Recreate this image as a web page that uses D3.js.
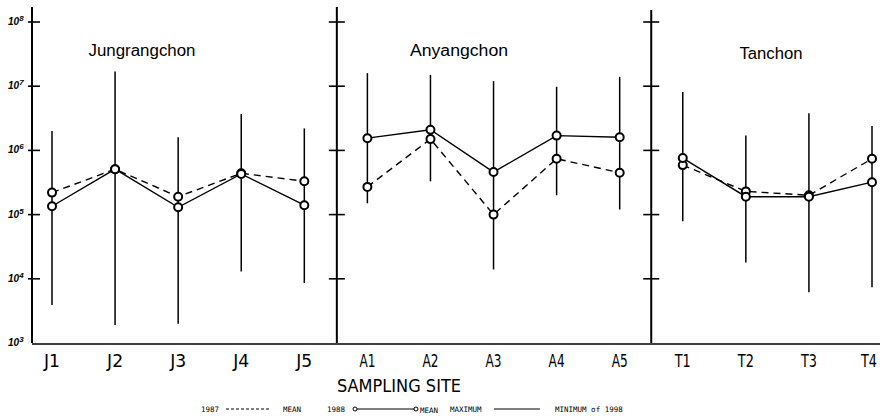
<!DOCTYPE html>
<html>
<head>
<meta charset="utf-8">
<script src="https://cdn.jsdelivr.net/npm/d3@7"></script>
<style>
  body { margin: 0; background: #fff; }
  svg { display: block; }
  text { fill: #000; }
</style>
</head>
<body>
<svg id="chart" width="883" height="419"></svg>
<script>
// sites, grouped by stream
const sites = ["J1", "J2", "J3", "J4", "J5", "A1", "A2", "A3", "A4", "A5", "T1", "T2", "T3", "T4"];
const streams = ["Jungrangchon", "Anyangchon", "Tanchon"];
const streamSites = [["J1", "J2", "J3", "J4", "J5"], ["A1", "A2", "A3", "A4", "A5"], ["T1", "T2", "T3", "T4"]];

// values
const mean1987 = [2.2e5, 5.1e5, 1.9e5, 4.4e5, 3.3e5, 2.7e5, 1.5e6, 1.0e5, 7.4e5, 4.5e5, 5.9e5, 2.3e5, 2.0e5, 7.4e5];
const mean1988 = [1.35e5, 5.1e5, 1.3e5, 4.3e5, 1.4e5, 1.55e6, 2.1e6, 4.6e5, 1.7e6, 1.6e6, 7.6e5, 1.9e5, 1.9e5, 3.2e5];
const max1988 = [2.0e6, 1.7e7, 1.6e6, 3.7e6, 2.2e6, 1.6e7, 1.5e7, 1.2e7, 9.8e6, 1.4e7, 8.1e6, 1.7e6, 3.8e6, 2.4e6];
const min1988 = [3.9e3, 1.9e3, 2.0e3, 1.3e4, 8.6e3, 1.5e5, 3.3e5, 1.4e4, 2.0e5, 1.2e5, 7.9e4, 1.8e4, 6.2e3, 7.4e3];

const yTicks = [1e3, 1e4, 1e5, 1e6, 1e7, 1e8];

const svg = d3.select("#chart");
const x = d3.scalePoint().domain(sites).range([52, 872]);
const y = d3.scaleLog().domain([1e3, 1e8]).range([343, 22]);
const bottom = y(1e3);

// ---------- panel axes ----------
const dividers = [32, (x("J5") + x("A1")) / 2 + 1, (x("A5") + x("T1")) / 2];
dividers.forEach((dx, i) => {
    svg.append("line")
        .attr("x1", dx).attr("x2", dx).attr("y1", i === 2 ? 10 : 7).attr("y2", bottom)
        .attr("stroke", "#000").attr("stroke-width", 2);
    svg.selectAll(null).data(yTicks.slice(1)).join("line")
        .attr("x1", i === 0 ? dx - 4 : dx - 8).attr("x2", dx + 8)
        .attr("y1", d => y(d)).attr("y2", d => y(d))
        .attr("stroke", "#000").attr("stroke-width", 1.6);
});

// y labels, left only
const ylab = svg.selectAll(".ylab").data(yTicks).join("text")
    .attr("class", "ylab")
    .attr("x", 8).attr("y", d => y(d) + 3)
    .attr("font-family", "Liberation Sans, Arial, sans-serif")
    .attr("font-size", 10).attr("font-style", "italic").attr("font-weight", "bold");
ylab.append("tspan").text("10");
ylab.append("tspan").attr("dy", -4).attr("font-size", 8).text(d => Math.round(Math.log10(d)));

// bottom line
svg.append("line")
    .attr("x1", 32).attr("x2", 880).attr("y1", bottom + 1).attr("y2", bottom + 1)
    .attr("stroke", "#000").attr("stroke-width", 1.6);

// x labels
svg.selectAll(".xlab").data(sites).join("text")
    .attr("class", "xlab")
    .attr("x", d => Math.min(x(d), 869)).attr("y", 367)
    .attr("text-anchor", "middle")
    .attr("font-family", "DejaVu Sans, sans-serif")
    .attr("font-size", 18)
    .attr("textLength", 16).attr("lengthAdjust", "spacingAndGlyphs")
    .text(d => d);

// stream titles
const titleX = [142, 459, 771];
const titleW = [107, 98, 63];
svg.selectAll(".title").data(streams).join("text")
    .attr("class", "title")
    .attr("x", (d, i) => titleX[i] - titleW[i] / 2).attr("y", (d, i) => i === 2 ? 59 : 56)
    .attr("font-family", "Liberation Sans, Arial, sans-serif")
    .attr("font-size", 16)
    .attr("textLength", (d, i) => titleW[i]).attr("lengthAdjust", "spacingAndGlyphs")
    .text(d => d);

// ---------- error bars ----------
svg.selectAll(".bar").data(sites).join("line")
    .attr("class", "bar")
    .attr("x1", d => x(d)).attr("x2", d => x(d))
    .attr("y1", (d, i) => y(max1988[i])).attr("y2", (d, i) => y(min1988[i]))
    .attr("stroke", "#000").attr("stroke-width", 1.5);

// ---------- mean lines ----------
const line = d3.line().x(d => x(d.site)).y(d => y(d.v));
function series(vals) {
    return streamSites.map(g => g.map(s => ({ site: s, v: vals[sites.indexOf(s)] })));
}
svg.selectAll(".m87").data(series(mean1987)).join("path")
    .attr("class", "m87").attr("d", line)
    .attr("fill", "none").attr("stroke", "#000").attr("stroke-width", 1.4)
    .attr("stroke-dasharray", "7,5");
svg.selectAll(".m88").data(series(mean1988)).join("path")
    .attr("class", "m88").attr("d", line)
    .attr("fill", "none").attr("stroke", "#000").attr("stroke-width", 1.4);

[mean1987, mean1988].forEach(vals => {
    svg.append("g").selectAll("circle").data(sites).join("circle")
        .attr("cx", d => x(d)).attr("cy", (d, i) => y(vals[i])).attr("r", 4)
        .attr("fill", "#fff").attr("stroke", "#000").attr("stroke-width", 2);
});

// ---------- axis title + legend ----------
svg.append("text")
    .attr("x", 337).attr("y", 392)
    .attr("font-family", "DejaVu Sans, sans-serif")
    .attr("font-size", 18)
    .attr("textLength", 124).attr("lengthAdjust", "spacingAndGlyphs")
    .text("SAMPLING SITE");

const lg = svg.append("g")
    .attr("font-family", "DejaVu Sans Mono, monospace")
    .attr("font-size", 7.5);
lg.append("text").attr("x", 201).attr("y", 412).text("1987");
lg.append("line").attr("x1", 226).attr("x2", 270).attr("y1", 409).attr("y2", 409)
    .attr("stroke", "#000").attr("stroke-dasharray", "3,2");
lg.append("text").attr("x", 283).attr("y", 412).text("MEAN");
lg.append("text").attr("x", 327).attr("y", 412).text("1988");
lg.append("line").attr("x1", 357).attr("x2", 414).attr("y1", 409).attr("y2", 409)
    .attr("stroke", "#000").attr("stroke-width", 1.2);
lg.append("circle").attr("cx", 355).attr("cy", 409).attr("r", 2)
    .attr("fill", "#fff").attr("stroke", "#000");
lg.append("circle").attr("cx", 416).attr("cy", 409).attr("r", 2)
    .attr("fill", "#fff").attr("stroke", "#000");
lg.append("text").attr("x", 420).attr("y", 413).text("MEAN");
lg.append("text").attr("x", 450).attr("y", 412).text("MAXIMUM");
lg.append("line").attr("x1", 494).attr("x2", 540).attr("y1", 409).attr("y2", 409)
    .attr("stroke", "#000").attr("stroke-width", 1.2);
lg.append("text").attr("x", 555).attr("y", 412).text("MINIMUM of 1998");
</script>
</body>
</html>
